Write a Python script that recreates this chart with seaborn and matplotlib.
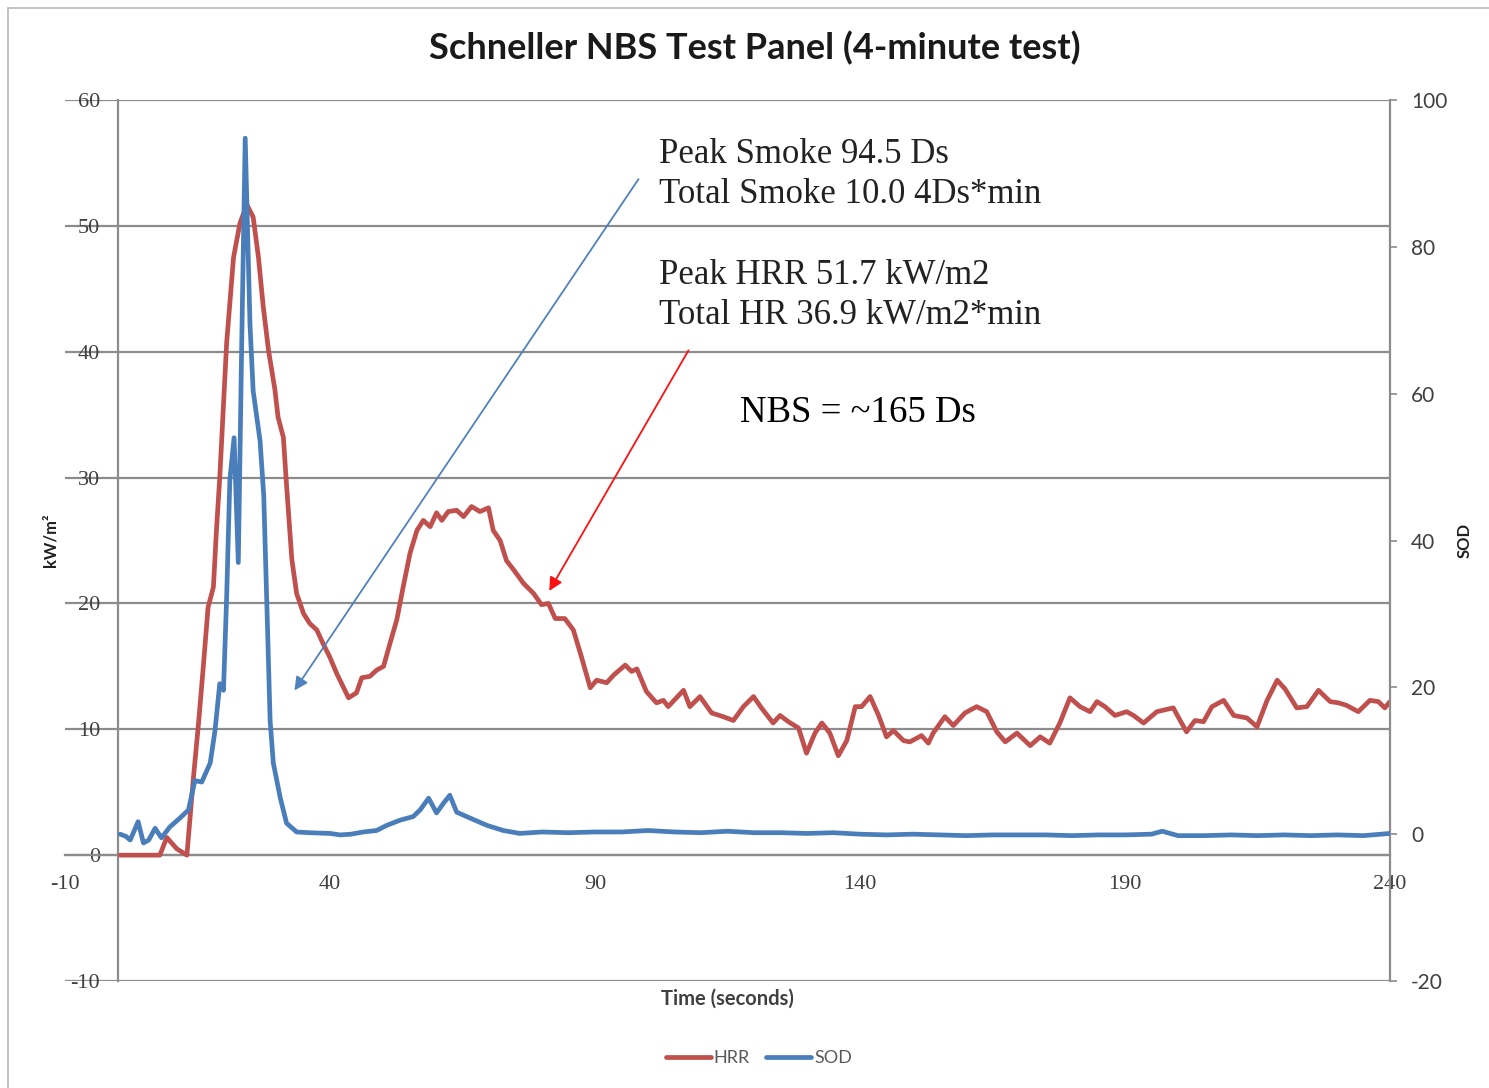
import matplotlib
matplotlib.use("Agg")
import matplotlib.pyplot as plt
from matplotlib.lines import Line2D
import seaborn as sns

# === DATA ===
hrr_t = [0.4, 7.9, 9.2, 11.1, 13.0, 14.2, 15.2, 16.1, 17.0, 18.0, 18.6, 19.2, 19.8, 20.5,
         21.8, 23.0, 24.3, 25.5, 26.5, 27.4, 28.4, 29.6, 30.2, 31.2, 31.8, 32.8, 33.7,
         35.0, 36.2, 37.5, 38.7, 40.0, 41.3, 43.5, 45.0, 46.0, 47.5, 48.8, 50.1, 51.3,
         52.6, 53.8, 55.1, 56.4, 57.6, 58.9, 60.1, 61.1, 62.3, 63.9, 65.2, 66.7, 68.3,
         69.9, 70.8, 72.1, 73.3, 74.6, 76.5, 78.4, 79.9, 81.2, 82.5, 84.3, 85.9, 87.2,
         89.1, 90.3, 92.2, 93.5, 95.7, 96.9, 97.9, 99.7, 101.6, 102.9, 103.8, 106.7,
         107.9, 109.8, 112.0, 114.2, 116.1, 118.0, 119.9, 121.4, 123.6, 124.9, 126.5,
         128.4, 129.9, 131.5, 132.8, 134.3, 135.9, 137.5, 139.1, 140.3, 141.9, 143.5,
         145.0, 146.3, 148.2, 149.4, 151.6, 152.9, 153.8, 156.0, 157.6, 159.8, 162.0,
         163.9, 165.8, 167.4, 169.6, 172.1, 174.0, 175.8, 177.7, 179.6, 181.5, 183.4,
         184.7, 186.2, 188.1, 190.3, 191.6, 193.5, 196.0, 199.1, 200.4, 201.6, 203.2,
         204.8, 206.4, 208.6, 210.5, 213.0, 214.9, 216.8, 218.7, 220.2, 222.4, 224.3,
         226.5, 228.7, 230.3, 231.8, 234.0, 236.2, 237.8, 239.0, 240.0]
hrr_kw = [0.0, 0.0, 1.4, 0.5, 0.0, 6.0, 10.5, 15.0, 19.7, 21.3, 26.0, 30.0, 35.0, 40.7,
          47.5, 50.2, 51.7, 50.7, 47.5, 43.6, 40.1, 37.0, 34.8, 33.2, 29.4, 23.5, 20.8,
          19.2, 18.4, 17.9, 16.8, 15.7, 14.4, 12.5, 12.9, 14.1, 14.2, 14.7, 15.0, 16.8,
          18.7, 21.3, 24.0, 25.8, 26.6, 26.1, 27.2, 26.6, 27.3, 27.4, 26.9, 27.7, 27.3,
          27.6, 25.8, 25.0, 23.4, 22.7, 21.6, 20.8, 19.9, 20.0, 18.8, 18.8, 17.9, 16.1,
          13.3, 13.9, 13.7, 14.3, 15.1, 14.6, 14.8, 13.0, 12.1, 12.3, 11.8, 13.1,
          11.8, 12.6, 11.3, 11.0, 10.7, 11.8, 12.6, 11.7, 10.5, 11.1, 10.6,
          10.1, 8.1, 9.7, 10.5, 9.7, 7.9, 9.1, 11.8, 11.8, 12.6, 11.1,
          9.4, 9.9, 9.1, 9.0, 9.5, 8.9, 9.7, 11.0, 10.3, 11.3, 11.8,
          11.4, 9.8, 9.0, 9.7, 8.7, 9.4, 8.9, 10.5, 12.5, 11.8, 11.4,
          12.2, 11.8, 11.1, 11.4, 11.1, 10.5, 11.4, 11.7, 10.7, 9.8, 10.7,
          10.6, 11.8, 12.3, 11.1, 10.9, 10.2, 12.3, 13.9, 13.2, 11.7, 11.8,
          13.1, 12.2, 12.1, 11.9, 11.4, 12.3, 12.2, 11.7, 12.2]

sod_t = [0.4, 1.5, 2.3, 3.8, 4.8, 5.8, 7.0, 8.2, 9.8, 11.7, 13.3, 14.5, 15.8, 17.4, 18.3,
         19.2, 19.9, 20.5, 21.1, 21.9, 22.7, 23.3, 24.0, 24.9, 25.5, 26.8, 27.5, 28.1,
         28.7, 29.3, 30.6, 31.8, 33.7, 36.0, 40.0, 41.9, 44.0, 46.3, 48.8, 50.7, 53.2,
         55.7, 57.0, 58.6, 60.1, 61.4, 62.6, 63.9, 66.4, 69.6, 72.7, 75.8, 80, 85, 90,
         95, 100, 105, 110, 115, 120, 125, 130, 135, 140, 145, 150, 155, 160, 165, 170,
         175, 180, 185, 190, 195, 197, 200, 205, 210, 215, 220, 225, 230, 235, 240]
sod = [0.0, -0.3, -0.8, 1.7, -1.2, -0.8, 0.8, -0.5, 1.0, 2.2, 3.3, 7.3, 7.1, 9.7, 14.1,
       20.5, 19.6, 32.3, 48.2, 54.0, 37.0, 65.0, 94.8, 69.5, 60.4, 53.6, 46.1, 30.9,
       15.5, 9.7, 5.0, 1.5, 0.3, 0.2, 0.1, -0.1, 0.0, 0.3, 0.5, 1.2, 1.9,
       2.4, 3.3, 4.9, 2.9, 4.2, 5.3, 3.0, 2.2, 1.2, 0.5, 0.1, 0.3, 0.2, 0.3,
       0.3, 0.5, 0.3, 0.2, 0.4, 0.2, 0.2, 0.1, 0.2, 0.0, -0.1, 0.0, -0.1, -0.2, -0.1, -0.1,
       -0.1, -0.2, -0.1, -0.1, 0.0, 0.4, -0.2, -0.2, -0.1, -0.2, -0.1, -0.2, -0.1, -0.2, 0.1]

x_ticks = [-10, 40, 90, 140, 190, 240]
hrr_ticks = [-10, 0, 10, 20, 30, 40, 50, 60]
sod_ticks = [-20, 0, 20, 40, 60, 80, 100]

RED = '#C0504D'
BLUE = '#4A7EBB'
GRID = '#8C8C8C'
TXT = '#404040'

# === STYLE ===
sns.set_style("white")
plt.rcParams['font.family'] = ['Lato', 'DejaVu Sans']
plt.rcParams['axes.unicode_minus'] = False

fig = plt.figure(figsize=(14.89, 10.88), dpi=100)
ax = fig.add_axes([0.04365, 0.09835, 0.8899, 0.8097])
ax2 = ax.twinx()

sns.lineplot(x=hrr_t, y=hrr_kw, ax=ax, color=RED, lw=3.4, estimator=None, sort=False,
             label='HRR', zorder=3)
sns.lineplot(x=sod_t, y=sod, ax=ax2, color=BLUE, lw=3.4, estimator=None, sort=False,
             label='SOD', zorder=3)
ax.get_legend().remove()
ax2.get_legend().remove()

ax.set_xlim(-10, 240)
ax.set_ylim(-10, 60)
ax2.set_ylim(-20, 100)
ax.set_xticks(x_ticks)
ax.set_yticks(hrr_ticks)
ax2.set_yticks(sod_ticks)

# Excel-like axes: left axis crosses at x=0, time axis crosses at HRR=0
for s in ['top', 'right']:
    ax.spines[s].set_visible(False)
for s in ['top', 'left', 'bottom']:
    ax2.spines[s].set_visible(False)
ax.spines['left'].set_position(('data', 0))
ax.spines['bottom'].set_position(('data', 0))
for sp in [ax.spines['left'], ax.spines['bottom'], ax2.spines['right']]:
    sp.set_color(GRID)
    sp.set_linewidth(1.6)

ax.yaxis.grid(True, color=GRID, lw=1.6)
ax.xaxis.grid(False)
ax.set_axisbelow(True)

ax.tick_params(axis='x', direction='out', length=5, width=1.2, color=GRID, pad=9,
               labelsize=16, labelcolor=TXT)
ax.tick_params(axis='y', length=0, pad=13, labelsize=16, labelcolor=TXT)
ax2.tick_params(axis='y', direction='out', length=5, width=1.2, color=GRID, pad=10,
                labelsize=15, labelcolor=TXT)
for lab in ax.get_xticklabels() + ax.get_yticklabels():
    lab.set_fontfamily('Liberation Serif')

ax.set_xlabel('Time (seconds)', fontsize=14.5, fontweight='bold', color=TXT)
ax.xaxis.set_label_coords(0.4996, -0.0085)
ax.set_ylabel('kW/m²', fontsize=12, fontweight='bold', color='#202020', ha='center', va='center')
ax.yaxis.set_label_coords(-0.0113, 0.5)
ax2.set_ylabel('SOD', fontsize=12, fontweight='bold', color='#202020', ha='center', va='center')
ax2.yaxis.set_label_coords(1.0566, 0.5)

fig.suptitle('Schneller NBS Test Panel (4-minute test)', x=0.507, y=0.9559, va='center',
             fontsize=26, fontweight='bold', color='#1a1a1a')

# === ANNOTATIONS ===
ax.annotate('', xy=(33.0, 12.9), xytext=(98.5, 53.9),
            arrowprops=dict(arrowstyle='-|>', color='#4F81BD', lw=1.3, mutation_scale=20))
ax.annotate('', xy=(81.1, 20.8), xytext=(107.9, 40.3),
            arrowprops=dict(arrowstyle='-|>', color='#FF1010', lw=1.3, mutation_scale=20))
serif = dict(family='Liberation Serif', fontsize=25, va='center', ha='left', color='#222222')
ax.text(102.1, 55.64, 'Peak Smoke 94.5 Ds', **serif)
ax.text(102.1, 52.46, 'Total Smoke 10.0 4Ds*min', **serif)
ax.text(102.1, 46.03, 'Peak HRR 51.7 kW/m2', **serif)
ax.text(102.1, 42.85, 'Total HR 36.9 kW/m2*min', **serif)
ax.text(117.4, 35.14, 'NBS = ~165 Ds', family='Liberation Serif', fontsize=26.5,
        va='center', ha='left', color='black')

# === LEGEND ===
handles = [Line2D([], [], color=RED, lw=3.4), Line2D([], [], color=BLUE, lw=3.4)]
fig.legend(handles, ['HRR', 'SOD'], loc='center', bbox_to_anchor=(0.5097, 0.0276), ncol=2,
           frameon=False, fontsize=13, handlelength=2.5, handletextpad=0.15,
           columnspacing=0.9, labelcolor='#595959')

# chart-area border (left and top edges visible in the reference)
fig.add_artist(Line2D([8 / 1489, 8 / 1489], [0, 1 - 8 / 1088], transform=fig.transFigure,
                      color='#B8B8B8', lw=1.2))
fig.add_artist(Line2D([8 / 1489, 1], [1 - 8 / 1088, 1 - 8 / 1088], transform=fig.transFigure,
                      color='#B8B8B8', lw=1.2))

fig.savefig('out.png', dpi=100)
